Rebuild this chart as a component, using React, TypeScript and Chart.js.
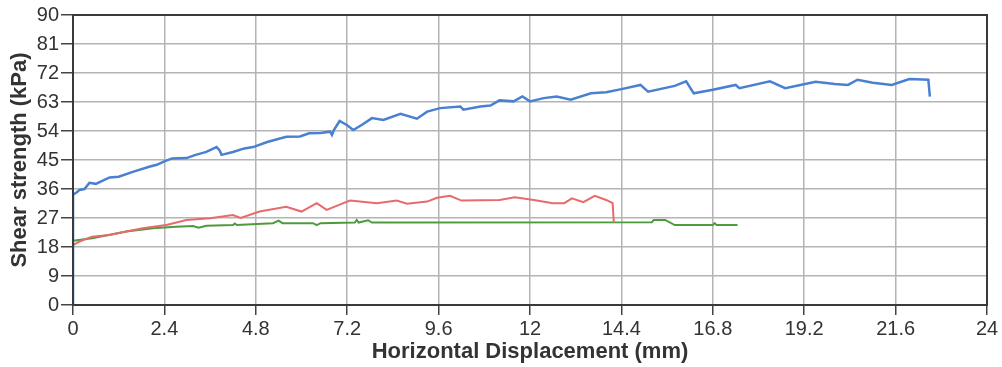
import React, { useEffect, useRef } from "react";
import { Chart, registerables } from "chart.js";

Chart.register(...registerables);

// ---- data ----
const xTicks = [0, 2.4, 4.8, 7.2, 9.6, 12, 14.4, 16.8, 19.2, 21.6, 24];
const yTicks = [0, 9, 18, 27, 36, 45, 54, 63, 72, 81, 90];

const blueX = [0, 0, 0.1, 0.17, 0.3, 0.43, 0.6, 0.96, 1.2, 1.57, 2.0, 2.2, 2.4, 2.6, 2.98, 3.2, 3.5, 3.77, 3.85, 3.9, 4.2, 4.5, 4.73, 5.1, 5.6, 5.96, 6.2, 6.5, 6.75, 6.8, 6.85, 7.0, 7.2, 7.36, 7.6, 7.85, 8.15, 8.6, 9.03, 9.3, 9.64, 10.17, 10.25, 10.7, 10.96, 11.2, 11.57, 11.8, 12.0, 12.36, 12.7, 13.07, 13.6, 14.0, 14.4, 14.9, 15.1, 15.8, 16.1, 16.3, 16.8, 17.4, 17.5, 18.3, 18.7, 19.1, 19.5, 20.0, 20.35, 20.6, 21.0, 21.5, 21.96, 22.46, 22.5];
const blueY = [0, 34.2, 35, 35.7, 36, 37.9, 37.6, 39.6, 39.8, 41.3, 42.9, 43.5, 44.6, 45.5, 45.6, 46.5, 47.5, 49, 48, 46.6, 47.5, 48.6, 49, 50.6, 52.2, 52.3, 53.3, 53.4, 53.8, 52.8, 54.3, 57.1, 55.8, 54.3, 56, 58, 57.4, 59.3, 57.8, 60, 61.1, 61.6, 60.6, 61.6, 61.9, 63.5, 63.2, 64.7, 63.2, 64.2, 64.7, 63.7, 65.7, 66, 67, 68.3, 66.2, 68, 69.4, 65.7, 66.8, 68.3, 67.3, 69.4, 67.3, 68.3, 69.3, 68.6, 68.3, 69.9, 69, 68.3, 70.1, 69.9, 64.7];

const redX = [0, 0.17, 0.5, 0.96, 1.4, 1.83, 2.45, 2.98, 3.6, 4.2, 4.4, 4.9, 5.6, 6.0, 6.4, 6.66, 7.1, 7.28, 7.98, 8.5, 8.77, 9.3, 9.56, 9.9, 10.2, 11.2, 11.6, 12.1, 12.6, 12.9, 13.1, 13.4, 13.7, 14.0, 14.17, 14.2];
const redY = [18.6, 19.7, 21.2, 21.7, 22.8, 23.8, 24.8, 26.4, 26.9, 27.9, 27, 29, 30.5, 29, 31.6, 29.5, 31.6, 32.4, 31.6, 32.4, 31.4, 32.1, 33.3, 33.9, 32.4, 32.6, 33.4, 32.6, 31.6, 31.6, 33.1, 31.9, 33.9, 32.6, 31.6, 25.6];

const greenX = [0, 0.5, 1.4, 2.1, 2.7, 3.15, 3.3, 3.5, 4.2, 4.25, 4.3, 5.25, 5.4, 5.5, 6.3, 6.4, 6.5, 7.4, 7.45, 7.5, 7.75, 7.85, 15.2, 15.25, 15.55, 15.8, 16.8, 16.85, 16.9, 17.45];
const greenY = [19.9, 20.7, 22.8, 23.8, 24.3, 24.5, 24, 24.6, 24.8, 25.3, 24.8, 25.4, 26.2, 25.4, 25.4, 24.8, 25.4, 25.6, 26.4, 25.6, 26.3, 25.6, 25.7, 26.4, 26.4, 24.8, 24.8, 25.4, 24.8, 24.8];

const xTitle = "Horizontal Displacement (mm)";
const yTitle = "Shear strength (kPa)";

const toPoints = (xs: number[], ys: number[]) => xs.map((x, i) => ({ x, y: ys[i] }));

const FONT = "'Liberation Sans', Arial, sans-serif";

const frame = {
  id: "frame",
  afterDatasetsDraw(chart: any) {
    const { ctx, chartArea } = chart;
    ctx.save();
    ctx.strokeStyle = "#3a3a3a";
    ctx.lineWidth = 2;
    ctx.strokeRect(chartArea.left, chartArea.top, chartArea.right - chartArea.left, chartArea.bottom - chartArea.top);
    ctx.restore();
  },
};

export default function App() {
  const ref = useRef<HTMLCanvasElement | null>(null);

  useEffect(() => {
    if (!ref.current) return;
    const chart = new Chart(ref.current, {
      type: "line",
      data: {
        datasets: [
          { label: "blue", data: toPoints(blueX, blueY), borderColor: "#4a80d0", borderWidth: 2.5, pointRadius: 0, fill: false, tension: 0 },
          { label: "red", data: toPoints(redX, redY), borderColor: "#e86a6a", borderWidth: 2, pointRadius: 0, fill: false, tension: 0 },
          { label: "green", data: toPoints(greenX, greenY), borderColor: "#4e9a3e", borderWidth: 2, pointRadius: 0, fill: false, tension: 0 },
        ],
      },
      options: {
        animation: false,
        responsive: true,
        maintainAspectRatio: false,
        parsing: false as any,
        layout: { padding: { top: 15, right: 15, left: 0, bottom: 0 } },
        plugins: { legend: { display: false }, tooltip: { enabled: false } },
        scales: {
          x: {
            type: "linear",
            min: 0,
            max: 24,
            afterBuildTicks: (s: any) => { s.ticks = xTicks.map((v) => ({ value: v })); },
            afterFit: (s: any) => { s.height = 62; },
            ticks: { font: { family: FONT, size: 20 }, color: "#333", padding: 2, maxRotation: 0, autoSkip: false, callback: (v: any) => String(v) },
            grid: { color: "#b4b4b4", lineWidth: 1.5, tickColor: "#444", tickLength: 10 },
            border: { display: true, color: "#3a3a3a", width: 2 },
            title: { display: true, text: xTitle, font: { family: FONT, size: 22, weight: "bold" }, color: "#333", padding: { top: 0, bottom: 2 } },
          },
          y: {
            type: "linear",
            min: 0,
            max: 90,
            afterBuildTicks: (s: any) => { s.ticks = yTicks.map((v) => ({ value: v })); },
            afterFit: (s: any) => { s.width = 73; },
            ticks: { font: { family: FONT, size: 20 }, color: "#333", padding: 2, autoSkip: false, callback: (v: any) => String(v) },
            grid: { color: "#b4b4b4", lineWidth: 1.5, tickColor: "#444", tickLength: 12 },
            border: { display: true, color: "#3a3a3a", width: 2 },
            title: { display: true, text: yTitle, font: { family: FONT, size: 22, weight: "bold" }, color: "#333", padding: { top: 7, bottom: 0 } },
          },
        },
      },
      plugins: [frame],
    } as any);
    return () => chart.destroy();
  }, []);

  return (
    <div style={{ position: "fixed", left: 0, top: 0, width: 1002, height: 367, background: "#fff" }}>
      <canvas ref={ref} />
    </div>
  );
}
